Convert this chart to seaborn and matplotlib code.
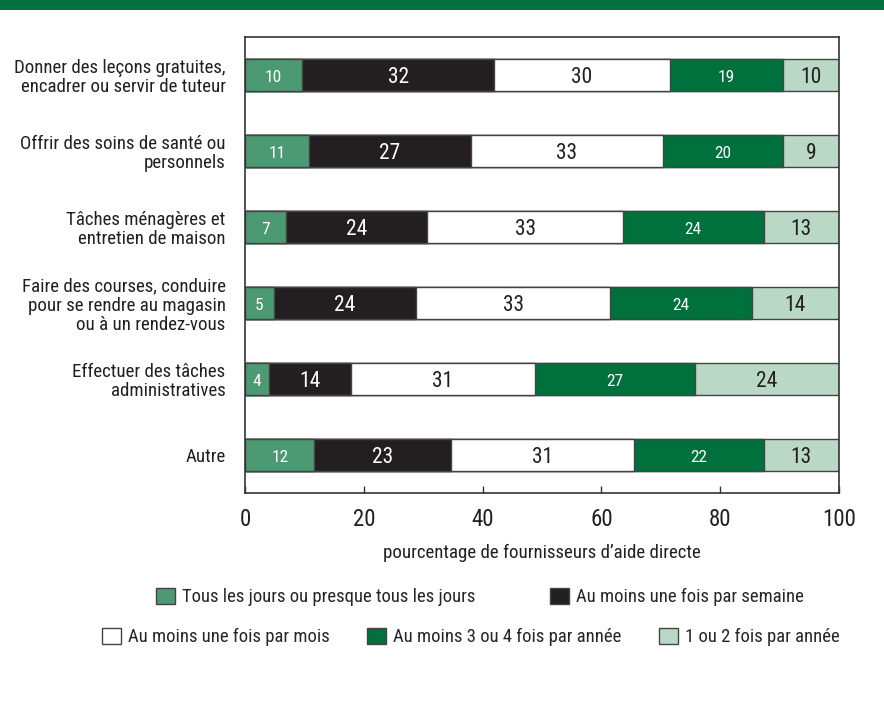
import numpy as np
import pandas as pd
import matplotlib
matplotlib.use("Agg")
from matplotlib import pyplot as plt
from matplotlib import font_manager
from matplotlib.patches import Patch, Rectangle
import seaborn as sns

# activities (y categories)
activities = [
    "Donner des leçons gratuites,\nencadrer ou servir de tuteur",
    "Offrir des soins de santé ou\npersonnels",
    "Tâches ménagères et\nentretien de maison",
    "Faire des courses, conduire\npour se rendre au magasin\nou à un rendez-vous",
    "Effectuer des tâches\nadministratives",
    "Autre",
]

# frequency series
tous_les_jours = [9.6, 10.8, 6.9, 4.9, 4.1, 11.7]
une_fois_semaine = [32.4, 27.2, 23.8, 23.9, 13.7, 23.0]
une_fois_mois = [29.5, 32.4, 32.9, 32.7, 31.0, 30.8]
trois_quatre_annee = [19.0, 20.1, 23.7, 23.8, 26.9, 21.8]
un_deux_annee = [9.5, 9.5, 12.7, 14.7, 24.3, 12.7]

# printed labels
lbl_tous = [10, 11, 7, 5, 4, 12]
lbl_semaine = [32, 27, 24, 24, 14, 23]
lbl_mois = [30, 33, 33, 33, 31, 31]
lbl_trois = [19, 20, 24, 24, 27, 22]
lbl_deux = [10, 9, 13, 14, 24, 13]

series_names = [
    "Tous les jours ou presque tous les jours",
    "Au moins une fois par semaine",
    "Au moins une fois par mois",
    "Au moins 3 ou 4 fois par année",
    "1 ou 2 fois par année",
]
colors = ["#4b9a74", "#231f20", "#ffffff", "#00703c", "#bad8c6"]
text_colors = ["white", "white", "#231f20", "white", "#231f20"]

sns.set_theme(style="white")

# pick a narrow face if one exists, otherwise a compact one
installed = {f.name for f in font_manager.fontManager.ttflist}
narrow = [n for n in ["Liberation Sans Narrow", "Roboto Condensed", "Open Sans Condensed",
                      "DejaVu Sans Condensed", "Noto Sans Condensed"] if n in installed]
if narrow:
    base_font = narrow[0]
    k = 1.0
else:
    base_font = "Roboto"
    k = 0.9
plt.rcParams["font.family"] = [base_font, "DejaVu Sans"]
text_sizes = [12.5 * k, 15.5 * k, 15.5 * k, 12.5 * k, 15.5 * k]

values = [tous_les_jours, une_fois_semaine, une_fois_mois, trois_quatre_annee, un_deux_annee]
labels = [lbl_tous, lbl_semaine, lbl_mois, lbl_trois, lbl_deux]

df = pd.DataFrame({"activite": activities})
cum = np.zeros(len(activities))
lefts = []
for name, vals in zip(series_names, values):
    lefts.append(cum.copy())
    cum = cum + np.array(vals)
    df[name] = cum.copy()

fig = plt.figure(figsize=(8.84, 7.03), dpi=100)
ax = fig.add_axes([245 / 884, 1 - 493 / 703, 594 / 884, 456 / 703])

# draw stacked bars from the outermost cumulative inward
for i in range(len(series_names) - 1, -1, -1):
    sns.barplot(data=df, x=series_names[i], y="activite", orient="h",
                color=colors[i], saturation=1, width=0.41,
                edgecolor="#444444", linewidth=1.0, ax=ax)

for i in range(len(series_names)):
    for j in range(len(activities)):
        x = lefts[i][j] + values[i][j] / 2
        ax.text(x, j + 0.03, str(labels[i][j]), ha="center", va="center",
                color=text_colors[i], fontsize=text_sizes[i])

ax.set_xlim(0, 100)
ax.set_ylim(5.5, -0.5)
ax.set_xticks([0, 20, 40, 60, 80, 100])
ax.set_ylabel("")
ax.set_xlabel("pourcentage de fournisseurs d\u2019aide directe", fontsize=13.6 * k,
              labelpad=9, color="#231f20")
ax.tick_params(axis="x", direction="in", length=5, width=1, color="#333333",
               labelsize=16.5 * k, pad=11, labelcolor="#231f20", bottom=True)
ax.tick_params(axis="y", length=0, labelsize=13.6 * k, pad=14, labelcolor="#231f20")
for lab in ax.get_yticklabels():
    lab.set_multialignment("right")
    lab.set_linespacing(1.08)
for s in ax.spines.values():
    s.set_visible(True)
    s.set_color("#333333")
    s.set_linewidth(1.2)

# top banner
fig.patches.append(Rectangle((0, 1 - 10 / 703), 1, 10 / 703, transform=fig.transFigure,
                             facecolor="#00703c", edgecolor="none"))

handles = [Patch(facecolor=c, edgecolor="#444444", linewidth=1.0) for c in colors]
leg1 = fig.legend(handles[:2], series_names[:2], loc="center", ncol=2,
                  bbox_to_anchor=(480 / 884, 1 - 597 / 703), frameon=False,
                  fontsize=13.4 * k, handlelength=1.0, handleheight=1.0,
                  handletextpad=0.4, columnspacing=4.0)
leg2 = fig.legend(handles[2:], series_names[2:], loc="center", ncol=3,
                  bbox_to_anchor=(471 / 884, 1 - 637 / 703), frameon=False,
                  fontsize=13.4 * k, handlelength=1.0, handleheight=1.0,
                  handletextpad=0.4, columnspacing=2.0)

fig.savefig("out.png", dpi=100)
